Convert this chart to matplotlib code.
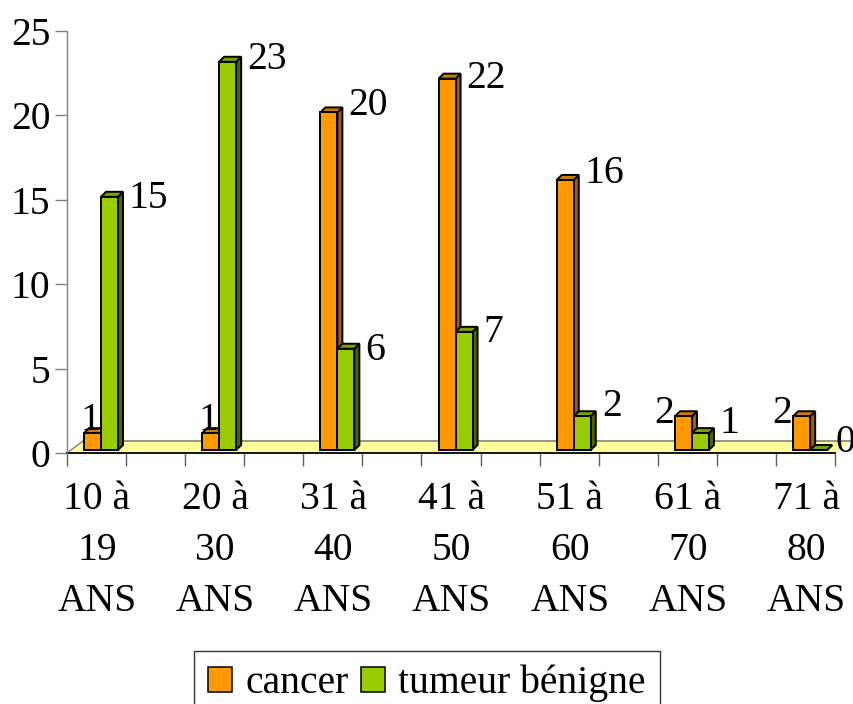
#!/usr/bin/env python3

import matplotlib
matplotlib.use("Agg")
import matplotlib.pyplot as plt
import numpy as np
from matplotlib.patches import Polygon, Patch


# Data
age_groups = [
    "10 à\n19\nANS",
    "20 à\n30\nANS",
    "31 à\n40\nANS",
    "41 à\n50\nANS",
    "51 à\n60\nANS",
    "61 à\n70\nANS",
    "71 à\n80\nANS",
]
cancer = [1, 1, 20, 22, 16, 2, 2]
benign = [15, 23, 6, 7, 2, 1, 0]
series_names = ["cancer", "tumeur bénigne"]

# Label baseline drop below the bar top, in pixels (layout only)
cancer_label_drop = [-3, -3, 3, 9, 3, 7, 7]
benign_label_drop = [11, 7, 11, 10, 0, 0, 2]

# Colours (front, side, top)
ORANGE = ("#FF9900", "#996100", "#CC7A00")
GREEN = ("#99CC00", "#4D6600", "#7AA300")
FLOOR = "#FFFF99"

FIG_W, FIG_H = 854, 704
X_MIN, X_MAX = -0.2876, 6.21
Y_MAX = 25

plt.rcParams["font.family"] = ["Liberation Serif", "DejaVu Serif"]
FS = 28.5


def main():
    fig = plt.figure(figsize=(FIG_W / 100, FIG_H / 100), dpi=100)
    ax = fig.add_axes([67 / FIG_W, 1 - 453 / FIG_H, 768 / FIG_W, 422 / FIG_H])
    ax.set_xlim(X_MIN, X_MAX)
    ax.set_ylim(0, Y_MAX)

    # pixel -> data unit conversion
    px_x = 768 / (X_MAX - X_MIN)
    px_y = 422 / Y_MAX

    def dx(p):
        return p / px_x

    def dy(p):
        return p / px_y

    # floor of the 3D chart
    fdx, fdy = dx(16), dy(12)
    floor = Polygon(
        [(X_MIN, 0), (X_MAX, 0), (X_MAX + fdx, fdy), (X_MIN + fdx, fdy)],
        closed=True, facecolor=FLOOR, edgecolor="none", clip_on=False,
        zorder=1,
    )
    ax.add_patch(floor)
    ax.plot([X_MIN + fdx, X_MAX + fdx], [fdy, fdy], color="#808080",
            lw=1.2, clip_on=False, zorder=1.5)
    ax.plot([X_MIN, X_MIN + fdx], [0, fdy], color="#808080",
            lw=1.0, clip_on=False, zorder=1.5)

    width = dx(17)
    base = dy(3)
    sdx, sdy = dx(5), dy(5)
    lw = 1.4

    def draw_bar(x0, value, colors, z):
        x1 = x0 + width
        top = base + value
        side = Polygon(
            [(x1, base), (x1 + sdx, base + sdy), (x1 + sdx, top + sdy),
             (x1, top)],
            facecolor=colors[1], edgecolor="black", lw=lw, zorder=z,
            clip_on=False, joinstyle="miter",
        )
        cap = Polygon(
            [(x0, top), (x0 + sdx, top + sdy), (x1 + sdx, top + sdy),
             (x1, top)],
            facecolor=colors[2], edgecolor="black", lw=lw, zorder=z,
            clip_on=False, joinstyle="miter",
        )
        ax.add_patch(side)
        ax.add_patch(cap)
        if value > 0:
            ax.bar(x0, value, width=width, bottom=base, align="edge",
                   color=colors[0], edgecolor="black", linewidth=lw,
                   zorder=z + 0.1, clip_on=False)

    for i, (c, b) in enumerate(zip(cancer, benign)):
        draw_bar(i - width, c, ORANGE, 2 + i)
        draw_bar(i, b, GREEN, 2.5 + i)

    # value labels
    for i, (c, b) in enumerate(zip(cancer, benign)):
        gap = 11 if b > 0 else 8
        ax.text(i + width + dx(gap), base + b - dy(benign_label_drop[i]),
                str(b), fontsize=FS, ha="left", va="baseline", zorder=20)
        y_c = base + c - dy(cancer_label_drop[i])
        if c <= 2:
            shift = 16 if c == 1 else -1
            ax.text(i - width + dx(shift), y_c, str(c),
                    fontsize=FS, ha="right", va="baseline", zorder=20)
        else:
            ax.text(i + dx(11), y_c, str(c),
                    fontsize=FS, ha="left", va="baseline", zorder=20)

    # axes styling
    for s in ("top", "right"):
        ax.spines[s].set_visible(False)
    ax.spines["left"].set_color("#808080")
    ax.spines["left"].set_linewidth(1.0)
    ax.spines["bottom"].set_color("black")
    ax.spines["bottom"].set_linewidth(1.3)
    ax.spines["bottom"].set_zorder(1.6)

    ax.set_yticks(np.arange(0, 26, 5))
    ax.tick_params(axis="y", direction="out", length=9, width=1.0,
                   color="#808080", labelsize=FS, pad=3)

    ax.set_xticks(np.linspace(X_MIN, X_MAX, 14), minor=True)
    ax.tick_params(axis="x", which="minor", direction="out", length=9,
                   width=1.0, color="#606060")
    ax.set_xticks(np.arange(len(age_groups)) - dx(4))
    ax.set_xticklabels(age_groups, linespacing=1.5)
    ax.tick_params(axis="x", which="major", length=0, labelsize=FS, pad=20)

    handles = [
        Patch(facecolor=ORANGE[0], edgecolor="black", lw=1.1),
        Patch(facecolor=GREEN[0], edgecolor="black", lw=1.1),
    ]
    leg = fig.legend(
        handles, series_names, loc="upper center",
        bbox_to_anchor=(427 / FIG_W, 1 - 651 / FIG_H), ncol=2,
        fontsize=FS, frameon=True, fancybox=False, edgecolor="black",
        handlelength=0.6, handleheight=0.6, handletextpad=0.35,
        columnspacing=0.3, borderpad=0.35, borderaxespad=0,
    )
    leg.get_frame().set_linewidth(1.0)

    fig.savefig("out.png", dpi=100)
    plt.close(fig)


if __name__ == "__main__":
    main()
